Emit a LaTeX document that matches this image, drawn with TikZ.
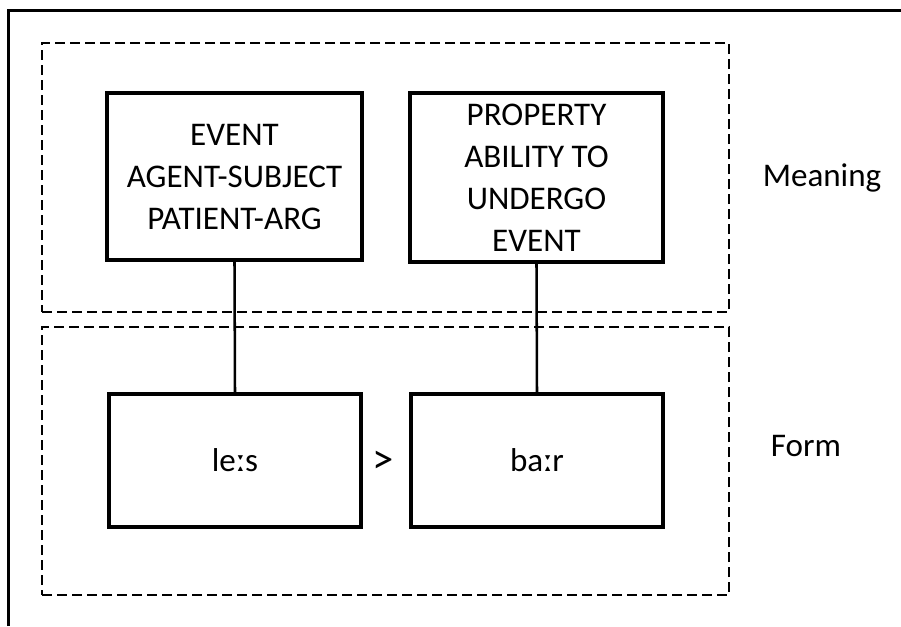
\documentclass[tikz,border=0pt]{standalone}
\usepackage{fontspec}
\setmainfont{Carlito}
\begin{document}
\begin{tikzpicture}[x=0.75pt,y=-0.75pt,
  every node/.style={font=\fontsize{24.8}{31.5}\selectfont, inner sep=0pt},
  entry/.style={draw, line width=3.3pt, rectangle, align=center},
  region/.style={draw, line width=1.4pt, dash pattern=on 7.5pt off 3.75pt, rectangle},
  link/.style={draw, line width=1.9pt},
  frame/.style={draw, line width=2pt}]
\useasboundingbox (0,0) rectangle (901,626);

% partial outer frame
\draw[frame] (8.5,626) -- (8.5,10.5) -- (901,10.5);

% meaning and form regions
\node[region, minimum width=515.25pt, minimum height=201.75pt] (meaning) at (385.5,177.5) {};
\node[region, minimum width=515.25pt, minimum height=201pt] (form) at (385.5,461) {};

% meaning entries
\node[entry, minimum width=191.25pt, minimum height=125.25pt] (ev) at (234.5,176.5)
  {EVENT\\AGENT-SUBJECT\\PATIENT-ARG};
\node[entry, minimum width=189.75pt, minimum height=126.75pt] (prop) at (536.5,177.5)
  {PROPERTY\\ABILITY TO\\UNDERGO\\EVENT};

% form entries
\node[entry, minimum width=189pt, minimum height=99.75pt] (les) at (235,460.5) {leːs};
\node[entry, minimum width=189pt, minimum height=99.75pt] (bar) at (537,460.5) {baːr};

\node[font=\fontsize{32}{32}\selectfont] (gt) at (383,462) {>};

% links between meaning and form
\draw[link] (ev.south) -- (les.north);
\draw[link] (prop.south) -- (bar.north);

% side labels
\node (meaninglabel) at (822,178) {Meaning};
\node (formlabel) at (806,446) {Form};
\end{tikzpicture}
\end{document}
